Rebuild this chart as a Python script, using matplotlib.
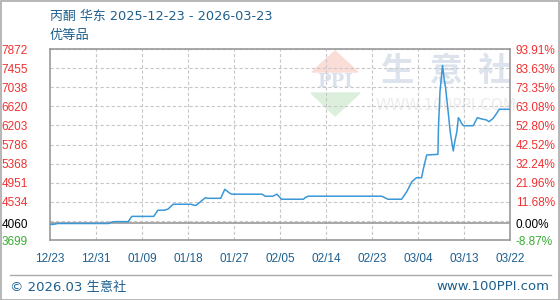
import matplotlib
matplotlib.use("Agg")
import matplotlib.pyplot as plt
from matplotlib.patches import Rectangle, Polygon
from matplotlib.lines import Line2D

plt.rcParams['font.family'] = ['DejaVu Sans', 'Noto Sans CJK SC']

# days since 2025-12-23 (axis is evenly spaced, 9 days per gridline)
days = [0, 0.6, 1.6, 11.5, 11.7, 12.7, 15.3, 16.0, 20.3, 21.1, 22.4, 23.1, 24.1,
        27.6, 28.2, 28.6, 30.4, 30.9, 33.4, 34.2, 35.2, 35.6, 41.5, 42.1, 43.6,
        44.4, 45.3, 49.6, 49.9, 50.5, 64.9, 65.5, 66.1, 68.8, 69.8, 70.8, 71.7,
        72.7, 73.0, 73.7, 75.9, 76.0, 76.3, 76.8, 77.1, 77.4, 77.9, 78.3, 78.6,
        78.9, 79.2, 79.6, 79.9, 80.2, 80.5, 80.9, 82.8, 83.6, 84.5, 85.4, 85.9,
        86.7, 87.4, 87.9, 90]
prices = [4040, 4040, 4060, 4060, 4080, 4100, 4100, 4215, 4215, 4350, 4350, 4376, 4480,
          4480, 4458, 4458, 4624, 4610, 4610, 4807, 4720, 4700, 4700, 4656, 4656,
          4700, 4590, 4590, 4624, 4656, 4656, 4624, 4590, 4590, 4755, 4973, 5060,
          5060, 5228, 5556, 5570, 6140, 6940, 7512, 7232, 7014, 6502, 6065, 5847,
          5644, 5847, 6065, 6371, 6321, 6249, 6196, 6196, 6371, 6343, 6321, 6284,
          6357, 6468, 6555, 6555]

x_labels = ["12/23", "12/31", "01/09", "01/18", "01/27", "02/05",
            "02/14", "02/23", "03/04", "03/13", "03/22"]
base = 4060
y_low, y_high = 3699, 7872
y_ticks = [3699, 4060, 4534, 4951, 5368, 5786, 6203, 6620, 7038, 7455, 7872]
y_labels = ["3699", "4060", "4534", "4951", "5368", "5786", "6203", "6620", "7038", "7455", "7872"]
pct_labels = ["-8.87%", "0.00%", "11.68%", "21.96%", "32.24%", "42.52%",
              "52.80%", "63.08%", "73.35%", "83.63%", "93.91%"]

red = '#f03030'
green = '#3aad32'
blue_txt = '#1d5f8e'
tick_font = 'Liberation Sans'

W, H = 560, 300
fig = plt.figure(figsize=(W / 100, H / 100), dpi=100)
ax = fig.add_axes([50 / W, (H - 240) / H, 460 / W, 191 / H])
ax.set_facecolor('none')

# watermark
fig.patches.append(Polygon([(312 / W, 1 - 72 / H), (358 / W, 1 - 72 / H), (335 / W, 1 - 51 / H)],
                           closed=True, transform=fig.transFigure, color='#f9ddd6', zorder=-2))
fig.patches.append(Polygon([(311 / W, 1 - 93 / H), (360 / W, 1 - 93 / H), (335 / W, 1 - 116 / H)],
                           closed=True, transform=fig.transFigure, color='#dcefdc', zorder=-2))
fig.text(335 / W, 1 - 82 / H, "PPI", ha='center', va='center', fontsize=13, fontweight='bold',
         color='#d9e0ee', family='DejaVu Serif', zorder=-1)
fig.text(446 / W, 1 - 72 / H, "生  意  社", ha='center', va='center', fontsize=24,
         fontweight='bold', color='#dde3ed', family=['Noto Sans CJK SC'], zorder=-1)
fig.text(446 / W, 1 - 106 / H, "WWW.100PPI.COM", ha='center', va='center', fontsize=11,
         color='#ececec', zorder=-1)

# grid
step = (y_high - y_low) / 10
for k in range(11):
    ax.axhline(y_low + k * step, color='#c8c8c8', lw=0.8, ls=(0, (3, 2)), zorder=1)
for k in range(1, 10):
    ax.axvline(k * 9, color='#c8c8c8', lw=0.8, ls=(0, (3, 2)), zorder=1)
ax.axhline(base, color='#999999', lw=1.2, zorder=2)

ax.plot(days, prices, color='#3a98d8', lw=1.1, zorder=3)

ax.set_xlim(0, 90)
ax.set_ylim(y_low, y_high)
for s in ax.spines.values():
    s.set_color('#999999')
    s.set_linewidth(1.2)

ax.set_xticks([k * 9 for k in range(11)])
ax.set_xticklabels(x_labels, family=tick_font)
ax.tick_params(axis='x', length=0, pad=9, labelsize=8.5, labelcolor=blue_txt)
ax.set_yticks(y_ticks)
ax.set_yticklabels(y_labels, family=tick_font)
ax.tick_params(axis='y', length=0, pad=16, labelsize=8.5)
for lab in ax.get_yticklabels():
    lab.set_color(red)
ax.get_yticklabels()[0].set_color(green)
ax.get_yticklabels()[1].set_color('black')

ax2 = ax.twinx()
ax2.set_ylim(y_low, y_high)
ax2.set_yticks(y_ticks)
ax2.set_yticklabels(pct_labels, family=tick_font)
ax2.tick_params(axis='y', length=0, pad=4, labelsize=8.5)
for s in ax2.spines.values():
    s.set_visible(False)
for lab in ax2.get_yticklabels():
    lab.set_color(red)
ax2.get_yticklabels()[0].set_color(green)
ax2.get_yticklabels()[1].set_color('black')

# titles and footer
fig.text(50 / W, 1 - 16 / H, "丙酮 华东 2025-12-23 - 2026-03-23", ha='left', va='center',
         fontsize=9.3, color=blue_txt)
fig.text(50 / W, 1 - 35 / H, "优等品", ha='left', va='center', fontsize=9.5, color=blue_txt,
         family=['Noto Sans CJK SC'])
fig.lines.append(Line2D([10 / W, 551 / W], [1 - 275 / H, 1 - 275 / H], transform=fig.transFigure,
                        color='#aaaaaa', lw=1))
fig.text(10 / W, 1 - 287 / H, "© 2026.03 生意社", ha='left', va='center', fontsize=9.5,
         color=blue_txt)
fig.text(549 / W, 1 - 286 / H, "www.100PPI.com", ha='right', va='center', fontsize=9.5,
         color=blue_txt)
fig.patches.append(Rectangle((0.5 / W, 0.5 / H), 1 - 1.5 / W, 1 - 1.5 / H, transform=fig.transFigure,
                             fill=False, edgecolor='#aaaaaa', lw=1.2))

fig.savefig("out.png", dpi=100)
